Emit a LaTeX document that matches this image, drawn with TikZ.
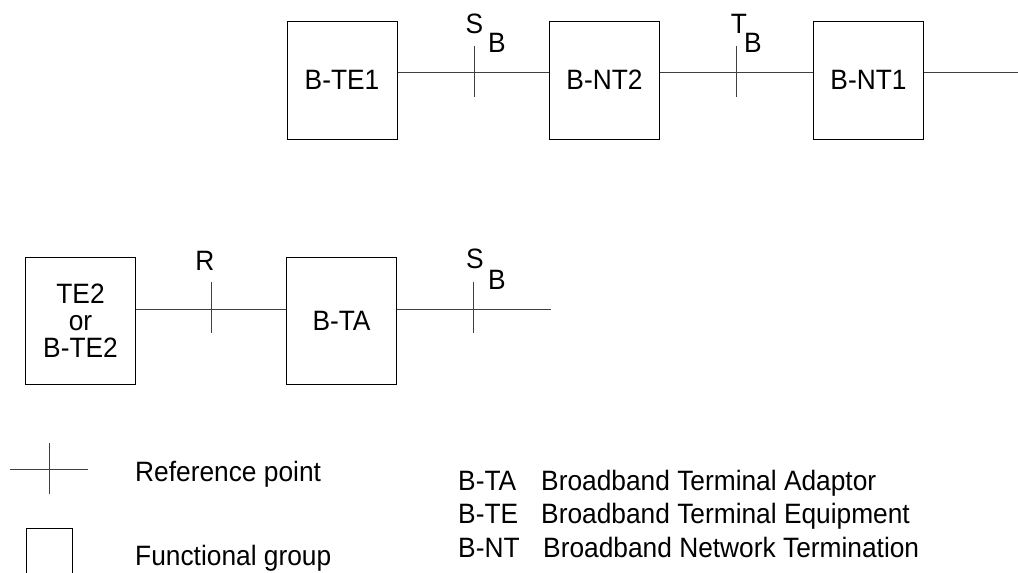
\documentclass[tikz,border=0pt]{standalone}
\usepackage{fontspec}
\setmainfont{Liberation Sans}[FakeStretch=0.94]
\usetikzlibrary{positioning}

\tikzset{
  fgroup/.style={draw=black, line width=1pt, minimum width=110pt, minimum height=118pt, inner sep=0pt},
  link/.style={draw=black!75, line width=1pt},
  refpt/.style={draw=black!75, line width=1pt},
  lbl/.style={anchor=base, inner sep=0pt}
}

\begin{document}
\begin{tikzpicture}[x=1pt, y=-1pt, font=\fontsize{28}{27}\selectfont]
    \useasboundingbox (0,0) rectangle (1018,573);
    % top row
    \node[fgroup] (te1) at (342,80) {B-TE1};
    \node[fgroup] (nt2) at (604.5,80) {B-NT2};
    \node[fgroup] (nt1) at (868.5,80) {B-NT1};
    \coordinate (nt1out) at (1018,72);
    \draw[link] ([yshift=8pt]te1.east) -- ([yshift=8pt]nt2.west);
    \draw[link] ([yshift=8pt]nt2.east) -- ([yshift=8pt]nt1.west);
    \draw[link] ([yshift=8pt]nt1.east) -- (nt1out);
    \coordinate (sb1) at (474,72);
    \coordinate (tb) at (736,72);
    \foreach \p in {sb1,tb}{\draw[refpt] (\p) ++(0,-26) -- ++(0,51);}
    \node[lbl] (sb1s) at (474.5,33) {S};
    \node[lbl] (sb1b) at (497,52) {B};
    \node[lbl] (tbt) at (739,33) {T};
    \node[lbl] (tbb) at (753,52) {B};
    % bottom row
    \node[fgroup, minimum height=127pt, align=center] (te2) at (80.5,320.5) {TE2\\or\\B-TE2};
    \node[fgroup, minimum height=127pt] (ta) at (341.5,320.5) {B-TA};
    \coordinate (taout) at (551,309);
    \draw[link] ([yshift=11.5pt]te2.east) -- ([yshift=11.5pt]ta.west);
    \draw[link] ([yshift=11.5pt]ta.east) -- (taout);
    \coordinate (r) at (211,309);
    \coordinate (sb2) at (473,309);
    \foreach \p in {r,sb2}{\draw[refpt] (\p) ++(0,-27) -- ++(0,51);}
    \node[lbl] (rr) at (205,270) {R};
    \node[lbl] (sb2s) at (475,268) {S};
    \node[lbl] (sb2b) at (497,289) {B};
    % legend
    \draw[refpt] (10,469) -- (88,469);
    \draw[refpt] (49,443) -- (49,494);
    \draw[line width=1pt] (26,573) -- (26,528) -- (72,528) -- (72,573);
    \node[lbl, anchor=base west] (refkey) at (135,481) {Reference point};
    \node[lbl, anchor=base west] (fgkey) at (135,565) {Functional group};
    \node[lbl, anchor=base west] (tak) at (458,490) {B-TA};
    \node[lbl, anchor=base west] (tek) at (458,523) {B-TE};
    \node[lbl, anchor=base west] (ntk) at (458,557) {B-NT};
    \node[lbl, anchor=base west] (tan) at (541,490) {Broadband Terminal Adaptor};
    \node[lbl, anchor=base west] (ten) at (541,523) {Broadband Terminal Equipment};
    \node[lbl, anchor=base west] (ntn) at (543,557) {Broadband Network Termination};
\end{tikzpicture}
\end{document}
